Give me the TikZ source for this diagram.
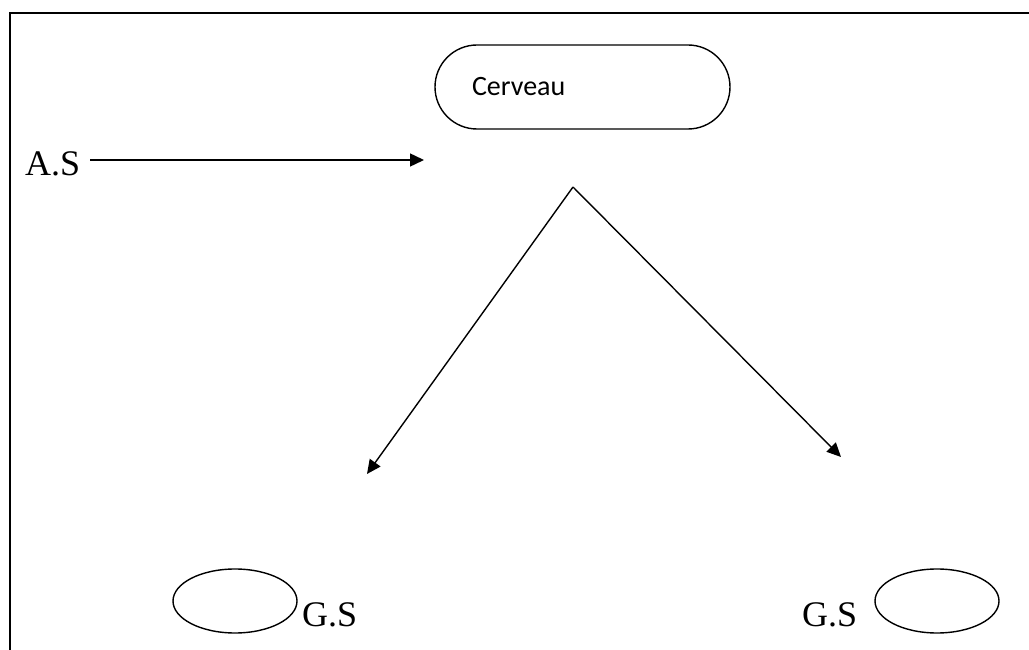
\documentclass[tikz,border=0pt]{standalone}
\usepackage{fontspec}
\setmainfont{Liberation Serif}
\newfontfamily\carlito{Carlito}
\usetikzlibrary{arrows.meta,shapes.geometric}
\begin{document}
\begin{tikzpicture}[x=1pt,y=-1pt,
  frame/.style={line width=2pt},
  link/.style={line width=1.4pt,-{Triangle[length=14pt,width=13pt]}},
  gland/.style={draw,line width=1.4pt,ellipse,minimum width=124pt,minimum height=64pt,inner sep=0pt},
  label/.style={font=\fontsize{36}{40}\selectfont,inner sep=0pt,anchor=base west},
  organ/.style={draw,line width=1.4pt,rounded corners=42pt,minimum width=295pt,minimum height=84pt,
    text width=221pt,inner xsep=37pt,align=left,font=\carlito\fontsize{28}{32}\selectfont}
]
\useasboundingbox (0,0) rectangle (1029,650);
% open frame: top and left sides
\draw[frame] (1029,13) -- (10,13) -- (10,650);
% brain
\node[organ] (cerveau) at (582.5,87) {Cerveau};
% incoming stimulus
\node[label] (as) at (25,176) {A.S};
\coordinate (asstart) at (90,160);
\coordinate (asend) at (424,160);
\draw[link] (asstart) -- (asend);
% branching towards the glands
\coordinate (apex) at (573,187);
\coordinate (tipl) at (367,474);
\coordinate (tipr) at (841,457);
\draw[link] (apex) -- (tipl);
\draw[link] (apex) -- (tipr);
% glands
\node[gland] (gl) at (235,601) {};
\node[gland] (gr) at (937,601) {};
\node[label] (gsl) at (302,626) {G.S};
\node[label] (gsr) at (802,626) {G.S};
\end{tikzpicture}
\end{document}
